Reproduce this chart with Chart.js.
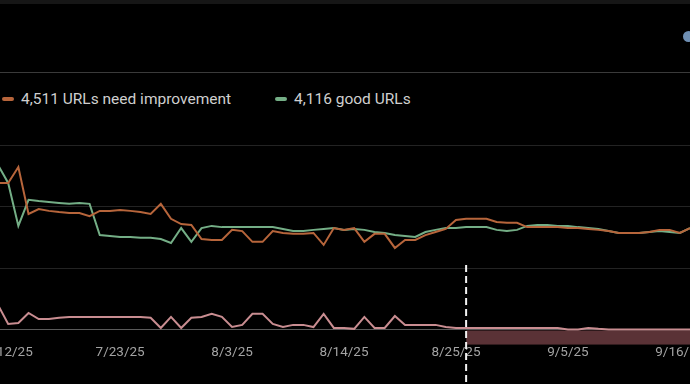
<!DOCTYPE html>
<html>
<head>
<meta charset="utf-8">
<script src="https://cdn.jsdelivr.net/npm/chart.js@4/dist/chart.umd.min.js"></script>
<style>
  html, body { margin: 0; padding: 0; background: #000; overflow: hidden; }
  body { width: 690px; height: 384px; position: relative; font-family: Roboto, "Noto Sans", sans-serif; }
  #topbar { position: absolute; left: 0; top: 0; width: 690px; height: 4px; background: #161616; }
  #sep { position: absolute; left: 0; top: 72px; width: 690px; height: 1px; background: #3a3a3a; }
  #dot { position: absolute; left: 683px; top: 31px; width: 11px; height: 11px; border-radius: 50%; background: #6f8fb3; }
  .leg { position: absolute; top: 90px; height: 18px; line-height: 18px; color: #cfcfcf; font-size: 15.5px; white-space: nowrap; }
  .leg i { display: inline-block; width: 12px; height: 4px; border-radius: 2px; vertical-align: middle; margin-right: 7px; position: relative; top: -1px; }
  #wrap { position: absolute; left: -2px; top: 110px; width: 692px; height: 274px; }
</style>
</head>
<body>
<div id="topbar"></div>
<div id="sep"></div>
<div id="dot"></div>
<div class="leg" id="leg1" style="left:2px"><i id="sw1"></i><span id="lt1"></span></div>
<div class="leg" id="leg2" style="left:275px"><i id="sw2"></i><span id="lt2"></span></div>
<div id="wrap"><canvas id="c"></canvas></div>
<script>
const dates = [
  '7/11/25','7/12/25','7/13/25','7/14/25','7/15/25','7/16/25','7/17/25','7/18/25','7/19/25','7/20/25',
  '7/21/25','7/22/25','7/23/25','7/24/25','7/25/25','7/26/25','7/27/25','7/28/25','7/29/25','7/30/25',
  '7/31/25','8/1/25','8/2/25','8/3/25','8/4/25','8/5/25','8/6/25','8/7/25','8/8/25','8/9/25',
  '8/10/25','8/11/25','8/12/25','8/13/25','8/14/25','8/15/25','8/16/25','8/17/25','8/18/25','8/19/25',
  '8/20/25','8/21/25','8/22/25','8/23/25','8/24/25','8/25/25','8/26/25','8/27/25','8/28/25','8/29/25',
  '8/30/25','8/31/25','9/1/25','9/2/25','9/3/25','9/4/25','9/5/25','9/6/25','9/7/25','9/8/25',
  '9/9/25','9/10/25','9/11/25','9/12/25','9/13/25','9/14/25','9/15/25','9/16/25','9/17/25'
];
const tickLabels = ['7/12/25','7/23/25','8/3/25','8/14/25','8/25/25','9/5/25','9/16/25'];

const needImprovement = [
  4780,4780,5300,3770,3930,3870,3830,3800,3800,3700,
  3870,3870,3900,3870,3830,3770,4100,3610,3440,3410,
  2950,2920,2920,3250,3210,2860,2860,3210,3150,3120,
  3120,3150,2760,3310,3250,3310,2860,3120,3120,2660,
  2920,2920,3080,3180,3280,3570,3610,3610,3610,3510,
  3480,3480,3340,3340,3340,3340,3310,3310,3280,3250,
  3210,3150,3150,3150,3180,3250,3250,3150,3310
];
const good = [
  5370,4780,3380,4230,4190,4160,4130,4100,4130,4100,
  3080,3050,3020,3020,2990,2990,2950,2820,3310,2860,
  3310,3380,3340,3340,3340,3340,3340,3340,3280,3210,
  3210,3250,3280,3310,3250,3280,3250,3180,3150,3080,
  3050,3020,3180,3250,3310,3310,3340,3340,3340,3250,
  3210,3250,3380,3410,3410,3380,3380,3340,3310,3280,
  3210,3150,3150,3150,3180,3210,3180,3150,3310
];
const poor = [
  800,180,210,540,340,340,380,410,410,410,
  410,410,410,410,410,380,50,410,50,380,
  410,510,410,80,150,510,510,180,80,150,
  150,80,510,50,50,20,410,50,50,440,
  150,150,150,150,80,50,50,50,50,50,
  50,50,50,50,50,50,0,0,50,20,
  0,0,0,0,0,0,0,0,0
];
const legendLabels = ['4,511 URLs need improvement', '4,116 good URLs'];
const annotationDate = '8/26/25';
const bandTop = -30, bandBottom = -510;
const yMin = -500, yMax = 6000;
const gridValues = [0, 2000, 4000, 6000];

const colors = { need: '#b7653b', good: '#74ae86', poor: '#c98d91', band: '#5a3236' };

document.getElementById('lt1').textContent = legendLabels[0];
document.getElementById('lt2').textContent = legendLabels[1];
document.getElementById('sw1').style.background = colors.need;
document.getElementById('sw2').style.background = colors.good;

const annIndex = dates.indexOf(annotationDate);
const bandData = dates.map((d, i) => i >= annIndex ? bandBottom : null);

const annotationPlugin = {
  id: 'ann',
  afterDatasetsDraw(chart) {
    const ctx = chart.ctx;
    const x = chart.scales.x.getPixelForValue(annIndex);
    const yTop = chart.scales.y.getPixelForValue(2100);
    ctx.save();
    ctx.strokeStyle = '#f2f2f2';
    ctx.lineWidth = 2;
    ctx.setLineDash([7, 4]);
    ctx.beginPath();
    ctx.moveTo(x, yTop);
    ctx.lineTo(x, chart.height);
    ctx.stroke();
    ctx.restore();
  }
};

new Chart(document.getElementById('c'), {
  type: 'line',
  data: {
    labels: dates,
    datasets: [
      { label: legendLabels[0], data: needImprovement, borderColor: colors.need, borderWidth: 2, pointRadius: 0, tension: 0, fill: false },
      { label: legendLabels[1], data: good, borderColor: colors.good, borderWidth: 2, pointRadius: 0, tension: 0, fill: false },
      { label: 'poor', data: poor, borderColor: colors.poor, borderWidth: 2, pointRadius: 0, tension: 0, fill: false },
      { label: 'band', data: bandData, borderWidth: 0, borderColor: 'rgba(0,0,0,0)', backgroundColor: colors.band, pointRadius: 0, tension: 0, fill: { value: bandTop }, spanGaps: false }
    ]
  },
  options: {
    responsive: true,
    maintainAspectRatio: false,
    animation: false,
    layout: { padding: { top: 35.6, left: 0, right: 0, bottom: 0 } },
    plugins: { legend: { display: false }, tooltip: { enabled: false } },
    scales: {
      x: {
        type: 'category',
        offset: false,
        grid: { display: false, drawTicks: false },
        border: { display: false },
        afterFit(s) { s.height = 39.2; },
        ticks: {
          autoSkip: false, maxRotation: 0, minRotation: 0, padding: 0,
          color: '#a3a3a3', font: { family: 'Roboto', size: 13.5 },
          callback(v) { const l = dates[v]; return tickLabels.includes(l) ? l : ''; }
        }
      },
      y: {
        min: yMin, max: yMax,
        afterFit(s) { s.width = 0; },
        afterBuildTicks(s) { s.ticks = gridValues.map(v => ({ value: v })); },
        ticks: { display: false },
        border: { display: false },
        grid: {
          drawTicks: false,
          color(ctx) { return ctx.tick && ctx.tick.value === 0 ? '#5a5a5a' : '#232323'; },
          lineWidth: 1
        }
      }
    }
  },
  plugins: [annotationPlugin]
});
</script>
</body>
</html>
